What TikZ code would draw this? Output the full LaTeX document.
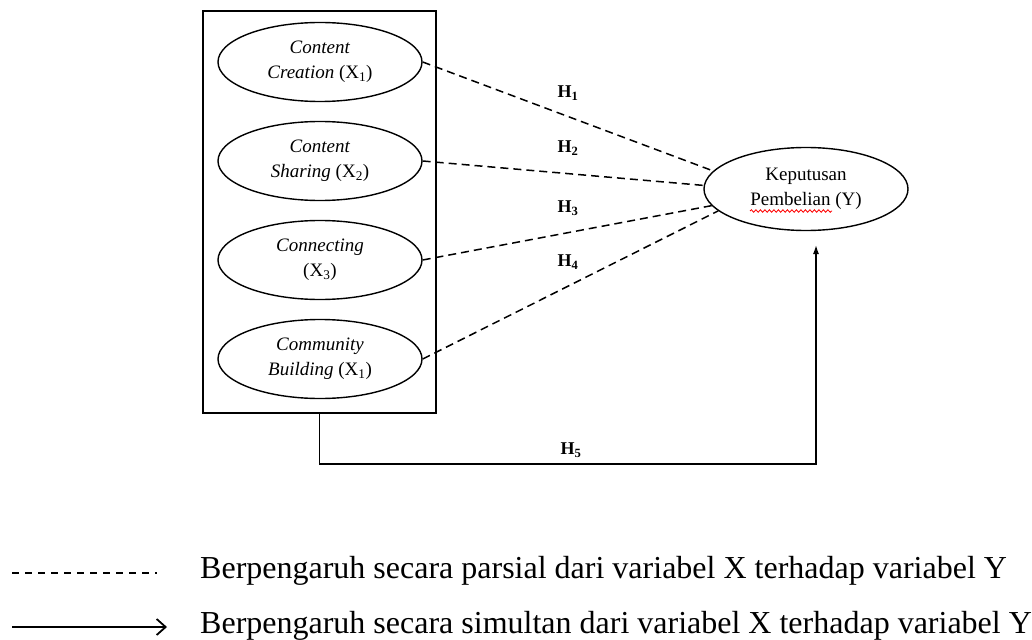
\documentclass[tikz,border=0pt]{standalone}
\usepackage{fontspec}
\setmainfont{Liberation Serif}
\usetikzlibrary{shapes.geometric,arrows.meta,decorations.pathmorphing}

\tikzset{
  var/.style={draw,ellipse,line width=1.4pt,minimum width=204pt,minimum height=79pt,
    inner sep=0pt,align=center,font=\fontsize{19}{25}\selectfont},
  hyp/.style={font=\fontsize{18}{20}\selectfont\bfseries},
  parsial/.style={line width=1.5pt,dash pattern=on 8pt off 5pt},
  simultan/.style={line width=1.4pt,-{Latex[length=9pt,width=6pt]}},
  legtext/.style={anchor=base west,inner sep=0pt,font=\fontsize{32}{36}\selectfont}
}

\begin{document}
\begin{tikzpicture}[x=1pt,y=-1pt]
    \useasboundingbox (0,0) rectangle (1032,639);
    % variables X
    \node[var] (cc) at (320,62) {\textit{Content}\\\textit{Creation} (X\textsubscript{1})};
    \node[var] (cs) at (320,161) {\textit{Content}\\\textit{Sharing} (X\textsubscript{2})};
    \node[var] (cn) at (320,260) {\textit{Connecting}\\(X\textsubscript{3})};
    \node[var] (cb) at (320,359) {\textit{Community}\\\textit{Building} (X\textsubscript{1})};
    % variable Y
    \node[var,minimum height=83pt] (kp) at (806,189) {Keputusan\\Pembelian (Y)};
    % box round X
    \node[draw,line width=1.6pt,minimum width=233pt,minimum height=402pt] (grp) at (319.5,212) {};
    % partial effects
    \draw[parsial] (cc.east) -- (kp.169);
    \draw[parsial] (cs.east) -- (kp.178);
    \draw[parsial] (cn.east) -- (kp.190);
    \draw[parsial] (cb.east) -- (kp.194);
    \node[hyp] (h1) at (568,93) {H\textsubscript{1}};
    \node[hyp] (h2) at (568,148) {H\textsubscript{2}};
    \node[hyp] (h3) at (568,208) {H\textsubscript{3}};
    \node[hyp] (h4) at (568,262) {H\textsubscript{4}};
    % simultaneous effect
    \coordinate (tip) at (816,245);
    \draw[simultan] (grp.south) -- ++(0,50) -| (tip);
    \node[hyp] (h5) at (571,450) {H\textsubscript{5}};
    % spell-check mark
    \draw[red,line width=0.8pt,decorate,decoration={snake,amplitude=1.3pt,segment length=4.5pt}] (750,211) -- (832,211);
    % legend
    \coordinate (da) at (12,573);
    \coordinate (db) at (157,573);
    \coordinate (sa) at (12,627);
    \coordinate (sb) at (167,627);
    \draw[line width=1.2pt,dash pattern=on 7pt off 6pt] (da) -- (db);
    \draw[line width=2.2pt,-{Straight Barb[length=9pt,width=16pt,line width=1.8pt]}] (sa) -- (sb);
    \node[legtext] (lp) at (200,578) {Berpengaruh secara parsial dari variabel X terhadap variabel Y};
    \node[legtext] (ls) at (200,633) {Berpengaruh secara simultan dari variabel X terhadap variabel Y};
\end{tikzpicture}
\end{document}
